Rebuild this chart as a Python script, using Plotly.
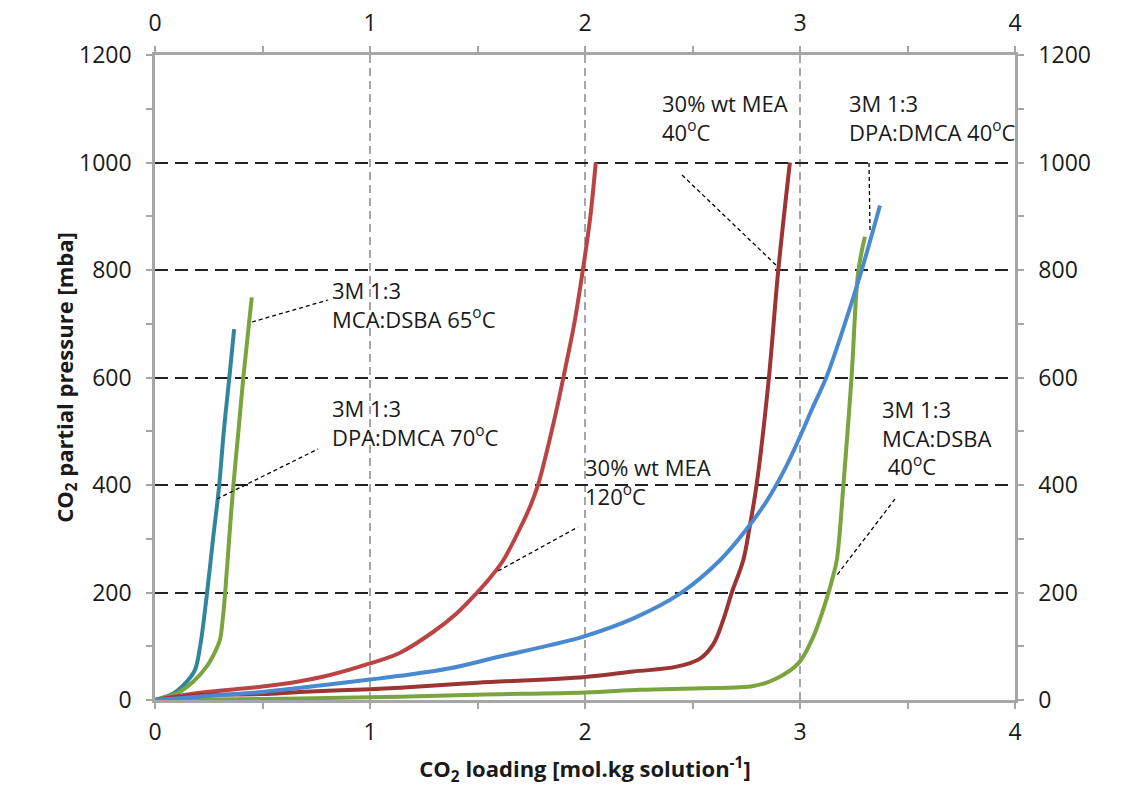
import plotly.graph_objects as go

# CO2 loading [mol/kg] vs CO2 partial pressure [mba]
dpa70_x = [0, 0.085, 0.15, 0.186, 0.21, 0.24, 0.27, 0.298, 0.32, 0.346, 0.368]
dpa70_y = [0, 12, 35, 56, 100, 192, 300, 397, 500, 601, 690]

mca65_x = [0, 0.1, 0.18, 0.24, 0.28, 0.302, 0.315, 0.326, 0.345, 0.364, 0.388, 0.411, 0.45]
mca65_y = [0, 12, 35, 62, 90, 112, 150, 198, 300, 397, 500, 601, 749]

mea120_x = [0, 0.2, 0.5, 0.674, 0.8, 1.0, 1.14, 1.295, 1.4, 1.496, 1.56, 1.62, 1.713, 1.75,
            1.783, 1.83, 1.876, 1.92, 1.95, 1.99, 2.025, 2.05]
mea120_y = [0, 13, 25, 35, 45, 68, 88, 127, 160, 199, 228, 260, 332, 365, 402, 475, 555, 640,
            700, 800, 900, 1000]

dpa40_x = [0, 0.2, 0.5, 0.767, 1.0, 1.14, 1.372, 1.605, 1.837, 2.0, 2.225, 2.442, 2.628,
           2.752, 2.845, 2.93, 3.0, 3.06, 3.124, 3.202, 3.287, 3.372]
dpa40_y = [0, 6, 15, 27, 38, 45, 59, 81, 102, 119, 152, 198, 260, 318, 370, 430, 490, 545,
           602, 692, 800, 920]

mea40_x = [0, 0.2, 0.5, 0.674, 1.0, 1.14, 1.5, 2.0, 2.225, 2.426, 2.535, 2.597, 2.643, 2.682,
           2.736, 2.765, 2.798, 2.853, 2.899, 2.953]
mea40_y = [0, 9, 11, 15, 20, 23, 32, 43, 53, 62, 77, 104, 149, 199, 260, 320, 400, 590, 800,
           1000]

mca40_x = [0, 0.5, 1.0, 1.14, 1.5, 2.0, 2.256, 2.535, 2.783, 2.891, 2.992, 3.062, 3.132,
           3.15, 3.171, 3.202, 3.24, 3.271, 3.302]
mca40_y = [0, 2, 5, 6, 10, 14, 19, 22, 26, 40, 68, 118, 199, 225, 260, 400, 602, 797, 862]

x_ticks = [0, 1, 2, 3, 4]
y_ticks = [0, 200, 400, 600, 800, 1000, 1200]

FONT = "Open Sans, Arial, sans-serif"
AXIS_GREY = "#a6a6a6"

series = [
    (dpa70_x, dpa70_y, "#31869e", "3M 1:3 DPA:DMCA 70°C"),
    (mca65_x, mca65_y, "#7aa43e", "3M 1:3 MCA:DSBA 65°C"),
    (mea120_x, mea120_y, "#b94443", "30% wt MEA 120°C"),
    (mca40_x, mca40_y, "#7aa43e", "3M 1:3 MCA:DSBA 40°C"),
    (mea40_x, mea40_y, "#9b3433", "30% wt MEA 40°C"),
    (dpa40_x, dpa40_y, "#4a89d0", "3M 1:3 DPA:DMCA 40°C"),
]

fig = go.Figure()
for xs, ys, color, name in series:
    fig.add_trace(go.Scatter(
        x=xs, y=ys, mode="lines", name=name,
        line=dict(color=color, width=4, shape="spline", smoothing=1.0),
    ))

# invisible trace so the top/right axes get drawn
fig.add_trace(go.Scatter(x=[0, 4], y=[0, 1200], xaxis="x2", yaxis="y2",
                         mode="markers", marker=dict(opacity=0), hoverinfo="skip",
                         showlegend=False))


def px_to_data(px, py):
    # reference-image pixels -> data units (plot area 155..1015 x 700..55)
    return (px - 155) / 215.0, (700 - py) / 0.5375


leaders = [
    ((252, 322), (328, 300)),
    ((217, 499), (318, 449)),
    ((498, 571), (578, 527)),
    ((682, 175), (777, 266)),
    ((869, 163), (870, 230)),
    ((895, 499), (837, 575)),
]
for p0, p1 in leaders:
    x0, y0 = px_to_data(*p0)
    x1, y1 = px_to_data(*p1)
    fig.add_shape(type="line", x0=x0, y0=y0, x1=x1, y1=y1, xref="x", yref="y",
                  line=dict(color="black", width=1.3, dash="4px,3px"))

labels = [
    ((330, 304), "3M 1:3<br>MCA:DSBA 65<sup>o</sup>C"),
    ((330, 422), "3M 1:3<br>DPA:DMCA 70<sup>o</sup>C"),
    ((583, 481), "30% wt MEA<br>120<sup>o</sup>C"),
    ((660, 117), "30% wt MEA<br>40<sup>o</sup>C"),
    ((847, 117), "3M 1:3<br>DPA:DMCA 40<sup>o</sup>C"),
    ((880, 437), "3M 1:3<br>MCA:DSBA<br> 40<sup>o</sup>C"),
]
for (px, py), txt in labels:
    x, y = px_to_data(px, py)
    fig.add_annotation(x=x, y=y, xref="x", yref="y", text=txt, showarrow=False,
                       xanchor="left", yanchor="middle", align="left",
                       font=dict(family=FONT, size=22, color="#1a1a1a"))

axis_common = dict(
    showline=True, linecolor=AXIS_GREY, linewidth=2.5,
    ticks="outside", ticklen=6, tickwidth=2, tickcolor=AXIS_GREY,
    tickfont=dict(family=FONT, size=23, color="#1a1a1a"),
    zeroline=False,
)

fig.update_layout(
    width=1135, height=787,
    paper_bgcolor="white", plot_bgcolor="white",
    margin=dict(l=155, r=120, t=55, b=87, autoexpand=False),
    showlegend=False,
    font=dict(family=FONT, color="#1a1a1a"),
    xaxis=dict(
        range=[0, 4], tickvals=x_ticks, ticktext=[str(t) for t in x_ticks],
        showgrid=True, gridcolor="#a6a6a6", gridwidth=1.5, griddash="8px,5px",
        minor=dict(dtick=0.5, ticks="outside", ticklen=6, tickwidth=2,
                   tickcolor=AXIS_GREY, showgrid=False),
        ticklabelstandoff=4, automargin=True,
        title=dict(text="<b>CO<sub>2</sub> loading [mol.kg solution<sup>-1</sup>]</b>",
                   font=dict(family=FONT, size=22), standoff=17),
        **axis_common,
    ),
    yaxis=dict(
        range=[0, 1200], tickvals=y_ticks, ticktext=[str(t) for t in y_ticks],
        showgrid=True, gridcolor="#222222", gridwidth=1.5, griddash="13px,7px",
        minor=dict(dtick=100, ticks="outside", ticklen=6, tickwidth=2,
                   tickcolor=AXIS_GREY, showgrid=False),
        ticklabelstandoff=10, automargin=True,
        title=dict(text="<b>CO<sub>2</sub> partial pressure [mba]</b>",
                   font=dict(family=FONT, size=22), standoff=0),
        **axis_common,
    ),
    xaxis2=dict(
        range=[0, 4], tickvals=x_ticks, overlaying="x", side="top", anchor="y",
        showgrid=False, ticklabelstandoff=6, automargin=False,
        minor=dict(dtick=0.5, ticks="outside", ticklen=6, tickwidth=2, tickcolor=AXIS_GREY),
        **axis_common,
    ),
    yaxis2=dict(
        range=[0, 1200], tickvals=y_ticks, overlaying="y", side="right", anchor="x",
        showgrid=False, ticklabelstandoff=10, automargin=False,
        minor=dict(dtick=100, ticks="outside", ticklen=6, tickwidth=2, tickcolor=AXIS_GREY),
        **axis_common,
    ),
)

# drop the default 8px body margin so the figure fills the window exactly
fig.write_html("out.html", config={"displayModeBar": False},
               post_script="document.body.style.margin = '0';")
